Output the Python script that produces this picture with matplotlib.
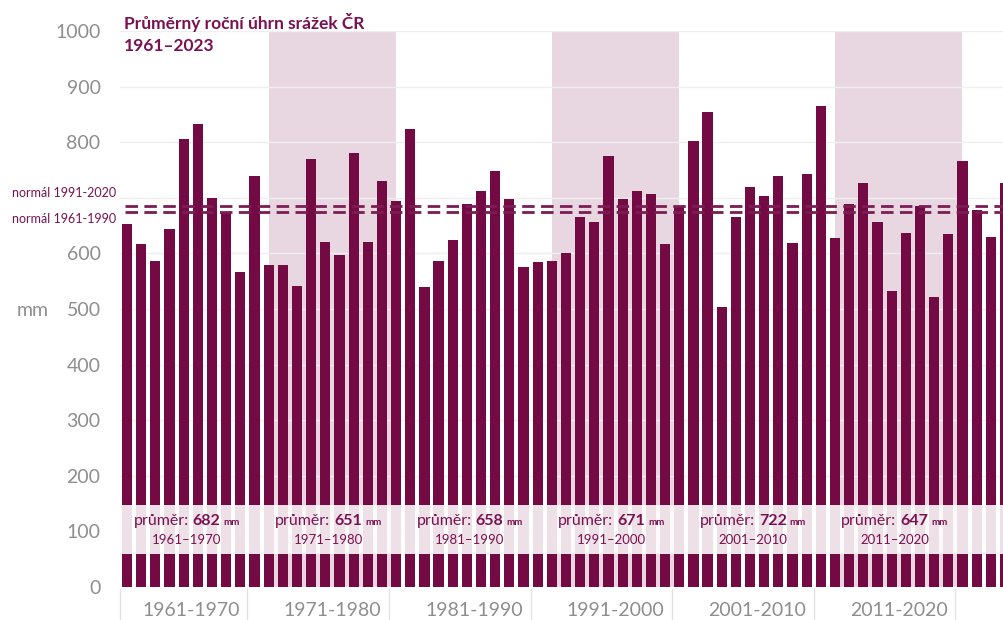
import matplotlib
matplotlib.use('Agg')
import matplotlib.pyplot as plt
import matplotlib.transforms as mtransforms

plt.rcParams['font.family'] = ['Lato', 'DejaVu Sans']

# data
years = list(range(1961, 2024))
srazky = [652, 617, 587, 644, 806, 833, 699, 673, 566, 739,
          580, 579, 542, 769, 620, 598, 781, 621, 731, 694,
          823, 539, 586, 624, 689, 712, 749, 697, 575, 584,
          586, 601, 666, 656, 776, 697, 713, 706, 617, 685,
          802, 854, 504, 665, 719, 703, 740, 619, 743, 866,
          627, 689, 727, 656, 532, 637, 685, 522, 634, 766,
          678, 629, 727]
normal_1961_1990 = 674
normal_1991_2020 = 686
decade_starts = [1961, 1971, 1981, 1991, 2001, 2011]
decade_avgs = [682, 651, 658, 671, 722, 647]
decade_labels = ['1961-1970', '1971-1980', '1981-1990', '1991-2000', '2001-2010', '2011-2020']
shaded = [(1971, 1980), (1991, 2000), (2011, 2020)]
ytick_vals = list(range(0, 1001, 100))

BAR = '#730a43'
TXT = '#7a1150'
GRAY = '#8e8e8e'
SHADE = '#e8d7e1'

fig = plt.figure(figsize=(10.04, 6.2), dpi=100)
ax = fig.add_axes([120/1004, 33/620, 892/1004, 556/620])

for a, b in shaded:
    ax.axvspan(a, b, color=SHADE, lw=0, zorder=0)

ax.bar(years, srazky, width=0.72, color=BAR, zorder=2)

ax.set_xlim(1960.5, 2023.5)
ax.set_ylim(0, 1000)
ax.set_yticks(ytick_vals)
# the 700 label is replaced by the two "normál" labels
ax.set_yticklabels(['' if v == 700 else str(v) for v in ytick_vals])
ax.yaxis.grid(True, color='#efefef', lw=1, zorder=0.5)
ax.set_axisbelow(True)
for s in ax.spines.values():
    s.set_visible(False)
ax.tick_params(axis='y', length=0, pad=14, labelsize=14, labelcolor=GRAY)
ax.set_xticks([d + 4.5 for d in decade_starts])
ax.set_xticklabels(decade_labels)
ax.tick_params(axis='x', length=0, pad=11, labelsize=14, labelcolor=GRAY)

# decade separators under the axis
for x in [1960.5, 1969.5, 1979.5, 1989.5, 1999.5, 2009.5, 2019.5]:
    ax.axvline(x, ymin=-0.06, ymax=-0.003, color='#e2e2e2', lw=1, clip_on=False)

# normals
for v in [normal_1991_2020, normal_1961_1990]:
    ax.axhline(v, xmin=0.006, color='#7b1d52', lw=2, dashes=(4.5, 2.3), zorder=3)
fig.text(12/1004, 1 - 193/620, 'normál 1991-2020', fontsize=9, color=TXT, va='center')
fig.text(12/1004, 1 - 219/620, 'normál 1961-1990', fontsize=9, color=TXT, va='center')

# white band with decade averages
ax.axhspan(60, 147, facecolor='white', alpha=0.88, lw=0, zorder=3)

fig.canvas.draw()
r = fig.canvas.get_renderer()
for start, avg in zip(decade_starts, decade_avgs):
    xc = start + 4.2
    parts = [('průměr:', 'normal', 11.5, 4), (str(avg), 'bold', 11.5, 3), ('mm', 'bold', 7, 0)]
    texts = []
    widths = []
    for s, w, fs, gap in parts:
        t = ax.text(xc, 111, s, fontsize=fs, fontweight=w, color=TXT,
                    ha='left', va='baseline', zorder=5)
        texts.append(t)
        widths.append(t.get_window_extent(r).width + gap)
    total = sum(widths) - parts[-1][3]
    off = -total / 2
    for t, w in zip(texts, widths):
        t.set_transform(mtransforms.offset_copy(ax.transData, fig, x=off, y=0, units='dots'))
        off += w
    ax.text(xc, 84, f'{start}\u2013{start + 9}', fontsize=9.5, color=TXT,
            ha='center', va='center', zorder=5)

fig.text(33/1004, 1 - 310/620, 'mm', fontsize=14, color=GRAY,
         ha='center', va='center')

fig.text(124/1004, 1 - 22/620, 'Průměrný roční úhrn srážek ČR', fontsize=12.5,
         fontweight='bold', color=TXT, va='center')
fig.text(124/1004, 1 - 46/620, '1961\u20132023', fontsize=12.5,
         fontweight='bold', color=TXT, va='center')

fig.savefig('out.png', dpi=100)
